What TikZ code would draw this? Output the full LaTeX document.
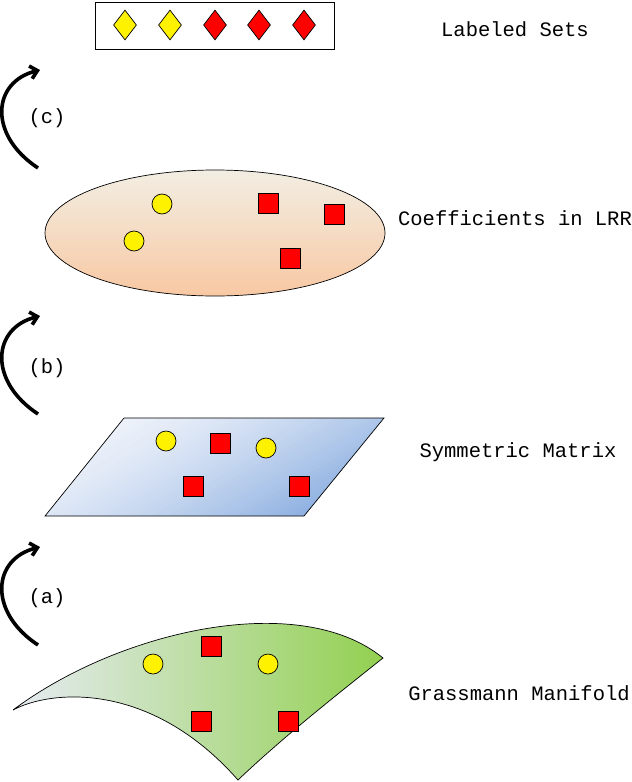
\documentclass[tikz,border=0pt]{standalone}
\usepackage{fontspec}
\setmonofont{Liberation Mono}
\usetikzlibrary{shapes.geometric,arrows.meta}
\begin{document}
\begin{tikzpicture}[x=1pt,y=-1pt,
  lbl/.style={font=\ttfamily\fontsize{20.5}{24}\selectfont, inner sep=0pt},
  ydot/.style={circle, draw=black, fill=yellow, minimum size=20pt, inner sep=0pt, line width=0.7pt},
  rsq/.style={rectangle, draw=black, fill=red, minimum size=20pt, inner sep=0pt, line width=0.7pt},
  ydia/.style={diamond, draw=black, fill=yellow, minimum width=23pt, minimum height=30pt, inner sep=0pt, line width=0.7pt},
  rdia/.style={ydia, fill=red},
  turn/.style={line width=3.6pt, -{Straight Barb[length=7pt,width=13pt]}},
]
\useasboundingbox (0,0) rectangle (632,782);
\definecolor{peachT}{HTML}{F2EEE3}
\definecolor{peachB}{HTML}{F8C8A3}
\definecolor{blueL}{HTML}{EEF2FA}
\definecolor{blueD}{HTML}{8AAEE0}
\definecolor{grnL}{HTML}{E6EBF3}
\definecolor{grnD}{HTML}{92D050}

% top box
\node[draw=black, line width=0.8pt, minimum width=239pt, minimum height=47pt, inner sep=0pt] (box) at (214.5,25.5) {};
\node[ydia] (d1) at (125,25) {};
\node[ydia] (d2) at (170,25) {};
\node[rdia] (d3) at (215,25) {};
\node[rdia] (d4) at (259,25) {};
\node[rdia] (d5) at (304,25) {};
\node[lbl] (tLab) at (515,29) {Labeled Sets};

% arrow (c)
\coordinate (c0) at (38,168);
\coordinate (c1) at (40,70);
\draw[turn] (c0) .. controls (-12,135) and (-8,82) .. (c1);
\node[lbl] (cLab) at (47,118) {(c)};

% ellipse
\path[draw=black, line width=0.7pt, top color=peachT, bottom color=peachB] (215,233) ellipse [x radius=170, y radius=63];
\coordinate (ell) at (215,233);
\node[ydot] (e1) at (162,204) {};
\node[ydot] (e2) at (134,241) {};
\node[rsq] (e3) at (268,203) {};
\node[rsq] (e4) at (334,214) {};
\node[rsq] (e5) at (290,258) {};
\node[lbl] (eLab) at (515,218) {Coefficients in LRR};

% arrow (b)
\coordinate (b0) at (38,414);
\coordinate (b1) at (40,316);
\draw[turn] (b0) .. controls (-12,381) and (-8,328) .. (b1);
\node[lbl] (bLab) at (47,368) {(b)};

% parallelogram with diagonal gradient (top-left light, bottom-right dark)
\begin{scope}
\clip (124,418) -- (384,418) -- (304,516) -- (45,516) -- cycle;
\foreach \i in {0,...,44} {
  \pgfmathsetmacro{\sa}{-95+\i*190/45}
  \pgfmathsetmacro{\sb}{\sa+190/45+0.8}
  \pgfmathtruncatemacro{\tt}{100*(1-(\i/44)^1.4)}
  \fill[blueL!\tt!blueD]
    ({214.5+\sa*0.5-216.5},{467+\sa*0.866+125}) --
    ({214.5+\sb*0.5-216.5},{467+\sb*0.866+125}) --
    ({214.5+\sb*0.5+216.5},{467+\sb*0.866-125}) --
    ({214.5+\sa*0.5+216.5},{467+\sa*0.866-125}) -- cycle;
}
\end{scope}
\draw[line width=0.7pt] (124,418) -- (384,418) -- (304,516) -- (45,516) -- cycle;
\node[ydot] (p1) at (166,441) {};
\node[rsq] (p2) at (220,443) {};
\node[ydot] (p3) at (266,448) {};
\node[rsq] (p4) at (193,486) {};
\node[rsq] (p5) at (299,486) {};
\node[lbl] (pLab) at (518,452) {Symmetric Matrix};

% arrow (a)
\coordinate (a0) at (38,645);
\coordinate (a1) at (40,547);
\draw[turn] (a0) .. controls (-12,612) and (-8,559) .. (a1);
\node[lbl] (aLab) at (47,598) {(a)};

% manifold
\path[draw=black, line width=0.7pt, left color=grnL, right color=grnD]
  (13,710) .. controls (120,630) and (300,590) .. (383,658)
  .. controls (330,700) and (280,740) .. (238,780)
  .. controls (150,680) and (50,690) .. (13,710) -- cycle;
\node[ydot] (m1) at (153,664) {};
\node[rsq] (m2) at (211,646) {};
\node[ydot] (m3) at (268,664) {};
\node[rsq] (m4) at (201,721) {};
\node[rsq] (m5) at (288,721) {};
\node[lbl] (mLab) at (519,693) {Grassmann Manifold};
\end{tikzpicture}
\end{document}
